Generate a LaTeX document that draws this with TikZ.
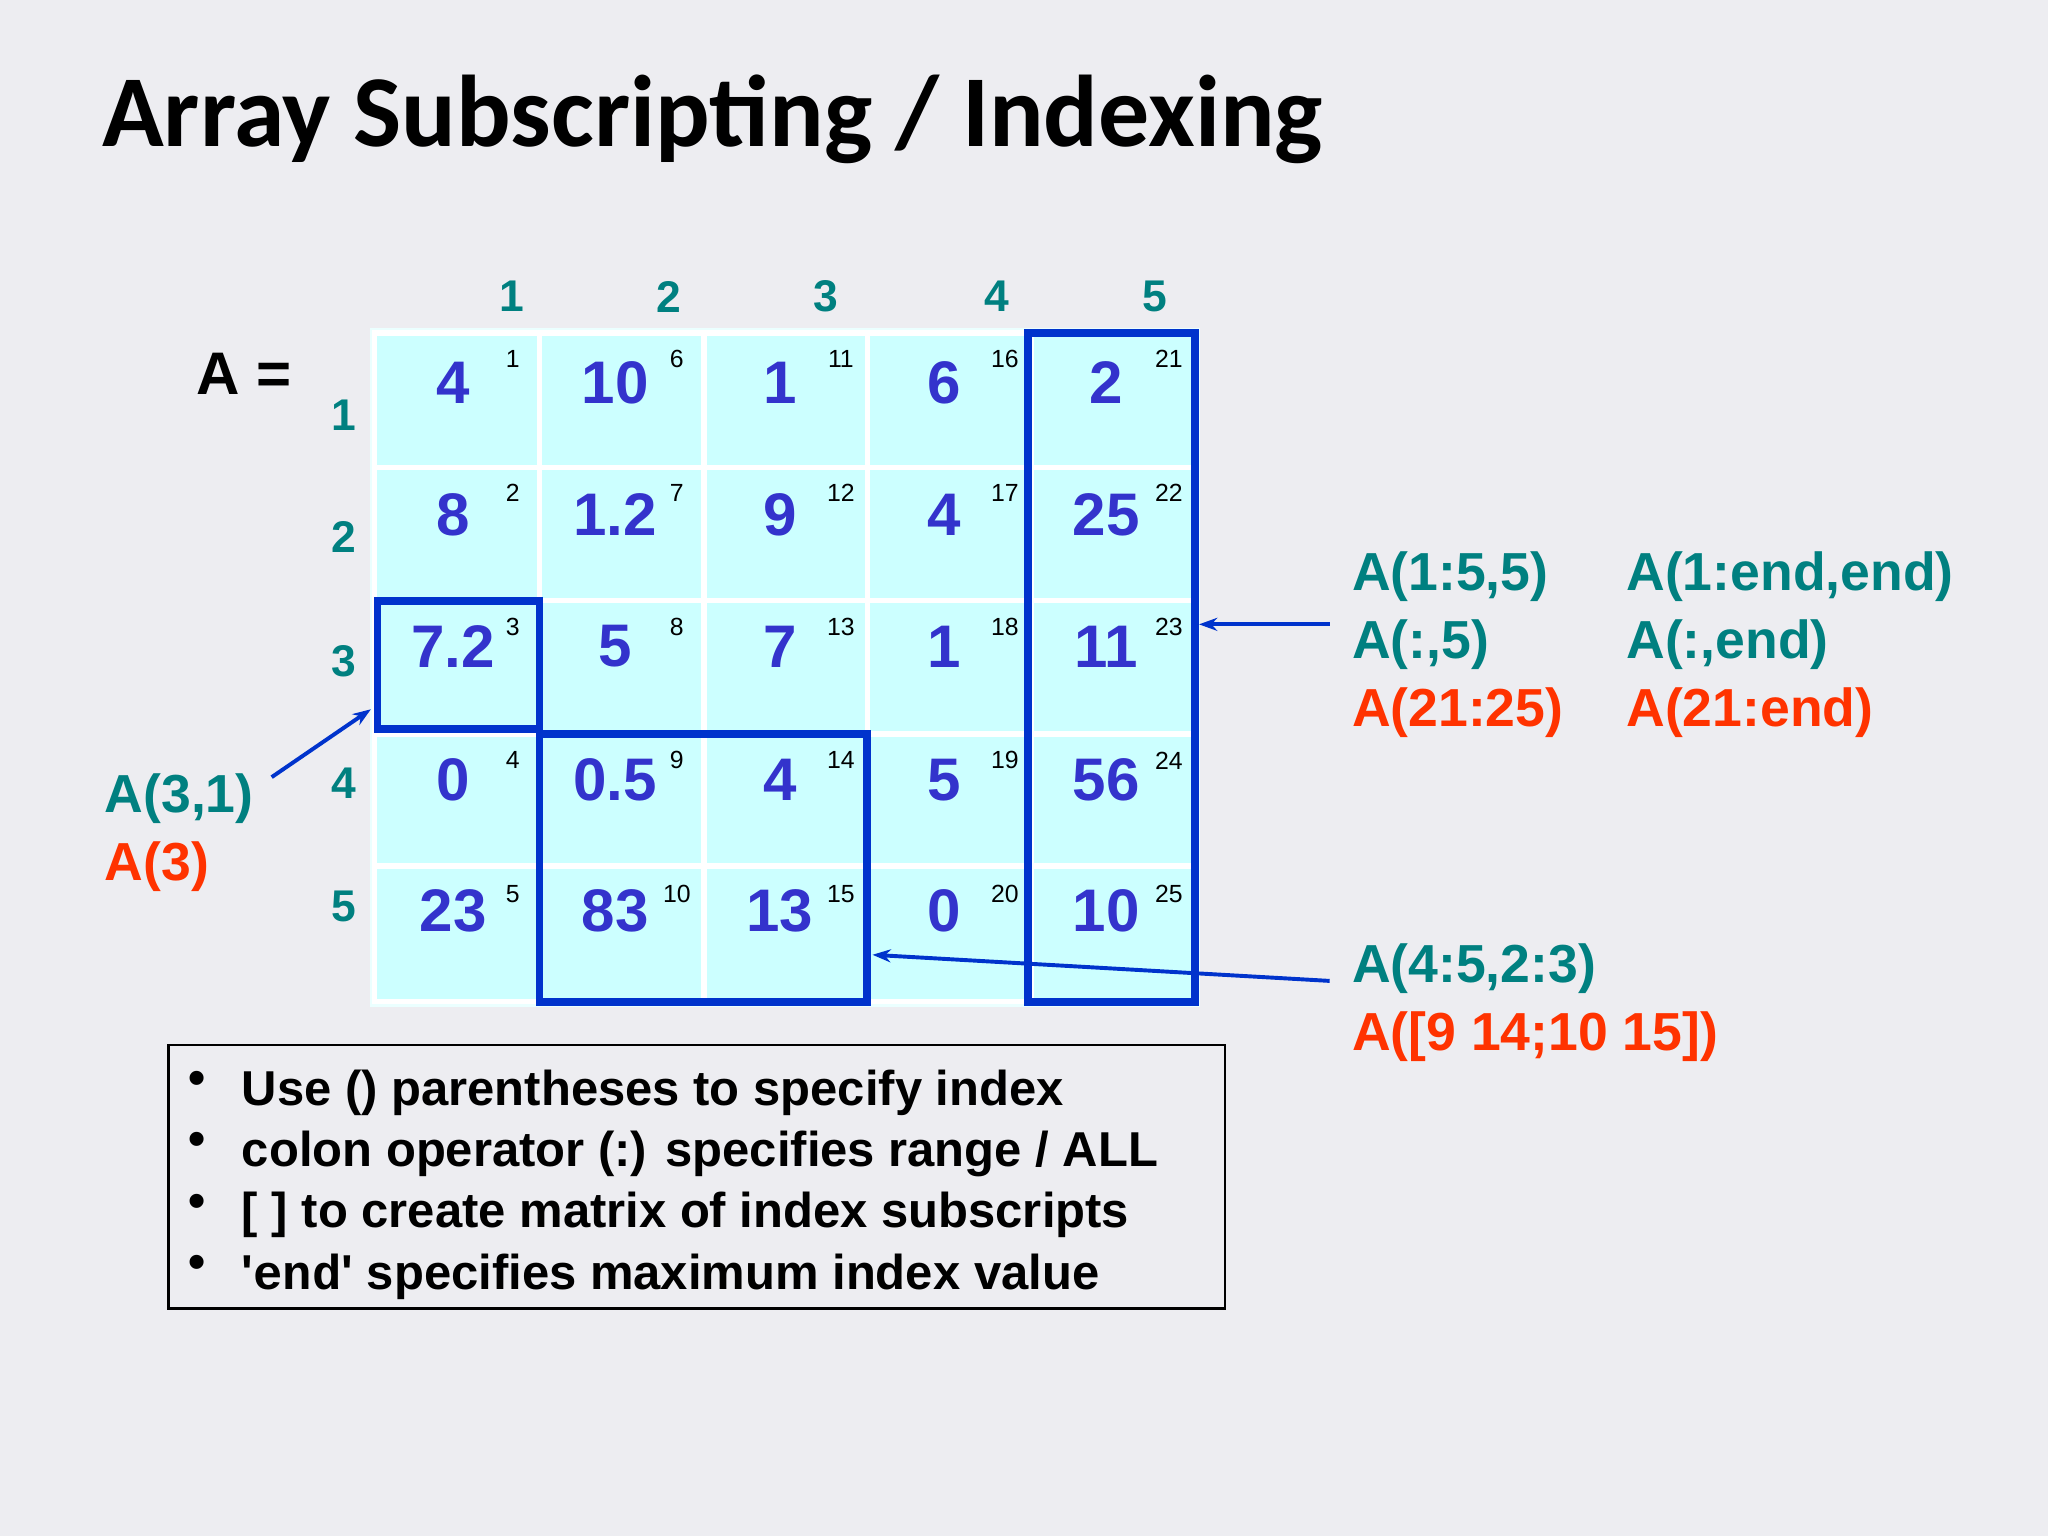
\documentclass[tikz,border=0pt]{standalone}
\usepackage{fontspec}
\setmainfont{Liberation Sans}
\newfontfamily\titlefont{Carlito}
\newfontfamily\monof{Liberation Mono}[Ligatures=TeXOff]
\newfontfamily\qfont{Liberation Sans}[Ligatures=TeXOff]
\usetikzlibrary{arrows.meta}
\definecolor{bg}{HTML}{EDEDF1}
\definecolor{cellc}{HTML}{CCFFFF}
\definecolor{numc}{HTML}{3333CC}
\definecolor{teal}{HTML}{008080}
\definecolor{redc}{HTML}{FF3300}
\definecolor{boxc}{HTML}{0033CC}
\begin{document}
\begin{tikzpicture}[x=1pt,y=-1pt,
  num/.style={font=\fontsize{46}{46}\bfseries, text=numc, inner sep=0},
  idx/.style={font=\fontsize{19}{19}\selectfont, inner sep=0},
  hdr/.style={font=\fontsize{34}{34}\bfseries, text=teal, inner sep=0},
  lab/.style={font=\fontsize{41}{41}\bfseries, inner sep=0, anchor=base west},
  hbox/.style={draw=boxc, line width=6pt},
  arr/.style={draw=boxc, line width=3pt, -{Stealth[length=14pt,width=10pt]}},
  bul/.style={font=\fontsize{37.5}{37.5}\bfseries, inner sep=0, anchor=base west}]
\fill[bg] (0,0) rectangle (1568,1176);
\node[anchor=base west, inner sep=0, font=\titlefont\fontsize{78}{78}\bfseries] (title) at (78,112) {Array Subscripting / Indexing};
\node[anchor=base, inner sep=0, font=\fontsize{46}{46}\bfseries] (Aeq) at (187,302) {A =};
% grid
\fill[white!60!cellc] (283,251) rectangle (919,771);
\fill[cellc] (287,255) rectangle (915,767);
\foreach \x in {413,539,664,790} \draw[white, line width=4pt] (\x,255) -- (\x,767);
\foreach \y in {358,460,562,663} \draw[white, line width=4pt] (287,\y) -- (915,\y);
\draw[white, line width=4pt] (287,255) rectangle (915,767);
% headers
\foreach \x/\t [count=\i] in {392/1,512/2,632/3,763/4,884/5}
  \node[hdr] (ch\i) at (\x,227) {\t};
\foreach \y/\t [count=\i] in {318/1,411/2,506/3,600/4,694/5}
  \node[hdr] (rh\i) at (263,\y) {\t};
% values
\def\cx{{347,471,597,723,847}}
\def\ry{{293,394,495,597,697}}
\foreach \v [count=\k from 0] in {4,8,7.2,0,23,10,1.2,5,0.5,83,1,9,7,4,13,6,4,1,5,0,2,25,11,56,10}{
  \pgfmathtruncatemacro{\c}{int(\k/5)}
  \pgfmathtruncatemacro{\r}{mod(\k,5)}
  \pgfmathsetmacro{\xx}{\cx[\c]}
  \pgfmathsetmacro{\yy}{\ry[\r]}
  \pgfmathsetmacro{\xi}{287+125.6*(\c+1)-20}
  \pgfmathsetmacro{\yi}{255+102.4*\r+20}
  \pgfmathtruncatemacro{\n}{\k+1}
  \node[num] (v\n) at (\xx,\yy) {\v};
  \node[idx] (i\n) at (\xi,\yi) {\n};
}
% highlight boxes
\draw[hbox] (787,255) rectangle (915,767);
\draw[hbox] (289,460) rectangle (413,558);
\draw[hbox] (413,562) rectangle (664,767);
% labels
\node[lab, text=teal] (l1) at (1035,452) {A(1:5,5)};
\node[lab, text=teal] (l2) at (1245,452) {A(1:end,end)};
\node[lab, text=teal] (l3) at (1035,504) {A(:,5)};
\node[lab, text=teal] (l4) at (1245,504) {A(:,end)};
\node[lab, text=redc] (l5) at (1035,556) {A(21:25)};
\node[lab, text=redc] (l6) at (1245,556) {A(21:end)};
\node[lab, text=teal] (l7) at (1035,752) {A(4:5,2:3)};
\node[lab, text=redc] (l8) at (1035,804) {A([9 14;10 15])};
\node[lab, text=teal] (l9) at (80,622) {A(3,1)};
\node[lab, text=redc] (l10) at (80,674) {A(3)};
% arrows
\coordinate (a1s) at (1018,478); \coordinate (a1e) at (918,478);
\coordinate (a2s) at (208,595); \coordinate (a2e) at (284,543);
\coordinate (a3s) at (1018,751); \coordinate (a3e) at (668,731);
\draw[arr] (a1s) -- (a1e);
\draw[arr] (a2s) -- (a2e);
\draw[arr] (a3s) -- (a3e);
% bullet box
\draw[line width=2pt] (129,800) rectangle (938,1002);
\foreach \y/\t [count=\i] in {846/{Use () parentheses to specify index},893/{colon operator (:) specifies range / ALL},940/{[ ] to create matrix of index subscripts}}{
  \node[bul] (b\i) at (185,\y) {\t};
  \node[bul] (d\i) at (144,\y-8) {\textbullet};
}
\node[bul] (b4) at (185,987) {{\qfont'}{\monof end}{\qfont'} specifies maximum index value};
\node[bul] (d4) at (144,979) {\textbullet};
\end{tikzpicture}
\end{document}
